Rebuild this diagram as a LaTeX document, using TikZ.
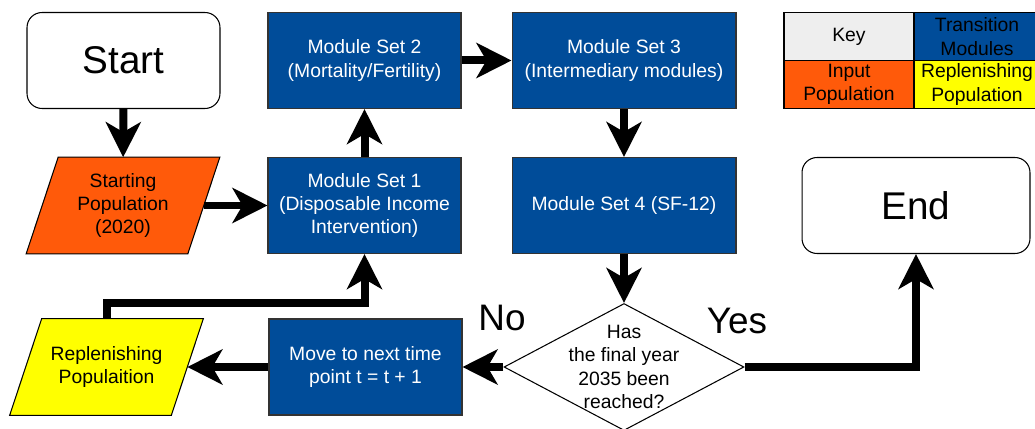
\documentclass[tikz,border=0pt]{standalone}
\usepackage{fontspec}
\setmainfont{Liberation Sans}
\usepackage{tikz}
\usetikzlibrary{arrows.meta}
\usetikzlibrary{shapes.geometric}
\usetikzlibrary{calc}

\definecolor{modblue}{HTML}{004C99}
\definecolor{inorange}{HTML}{FF5A0A}
\definecolor{repyellow}{HTML}{FFFF00}
\definecolor{keygray}{HTML}{EEEEEE}

\tikzset{
  txt/.style={font=\fontsize{11}{13.3}\selectfont, align=center, inner sep=0pt},
  modbox/.style={txt, draw=black!80, line width=0.6pt, fill=modblue, text=white, minimum width=3.86cm, minimum height=1.92cm},
  termbox/.style={draw=black, line width=0.6pt, rounded corners=0.3cm, fill=white, minimum height=1.92cm, font=\fontsize{22}{26}\selectfont},
  iobox/.style={txt, minimum width=3.86cm, minimum height=1.92cm},
  ioedge/.style={draw=black, line width=0.6pt},
  keycell/.style={txt, draw=black, line width=0.6pt, minimum height=0.96cm},
  flow/.style={line width=0.16cm, -{Stealth[length=0.7cm,width=0.7cm,inset=0.2cm]}},
  bigword/.style={font=\fontsize{21}{25}\selectfont, inner sep=0pt}
}

\begin{document}
\begin{tikzpicture}[x=0.02cm,y=-0.02cm]
\useasboundingbox (0,0) rectangle (1035,429);
\node [termbox, minimum width=3.86cm] (start) at (123.5,60.5) {Start};
\node [iobox] (startpop) at (123,205.5) {};
\draw [ioedge, fill=inorange] ($(startpop.north west)+(32,0)$) -- (startpop.north east) -- ($(startpop.south east)+(-32,0)$) -- (startpop.south west) -- cycle;
\node [txt] (startpoptxt) at (startpop) {Starting\\Population\\(2020)};
\node [modbox] (ms1) at (364.5,205.5) {Module Set 1\\(Disposable Income\\Intervention)};
\node [modbox] (ms2) at (364.5,60.5) {Module Set 2\\(Mortality/Fertility)};
\node [modbox, minimum width=4.48cm] (ms3) at (624,60.5) {Module Set 3\\(Intermediary modules)};
\node [modbox, minimum width=4.48cm] (ms4) at (624,205.5) {Module Set 4 (SF-12)};
\node [draw=black, line width=0.6pt, fill=white, diamond, inner sep=0pt, minimum width=4.8cm, minimum height=2.54cm] (check) at (624,367) {};
\node [txt] (checktxt) at (check) {Has\\the final year\\2035 been\\reached?};
\node [modbox] (nextt) at (365.5,367) {Move to next time\\point t = t + 1};
\node [iobox] (replen) at (106.5,367) {};
\draw [ioedge, fill=repyellow] ($(replen.north west)+(32,0)$) -- (replen.north east) -- ($(replen.south east)+(-32,0)$) -- (replen.south west) -- cycle;
\node [txt] (replentxt) at (replen) {Replenishing\\Populaition};
\node [termbox, minimum width=4.56cm] (finish) at (916,205.5) {End};
\node [bigword] (nolab) at (502,318) {No};
\node [bigword] (yeslab) at (737,321) {Yes};

\node [keycell, fill=keygray, minimum width=2.6cm] (keyhead) at (849,36.5) {Key};
\node [keycell, fill=modblue, minimum width=2.52cm] (keymod) at (977,36.5) {Transition\\Modules};
\node [keycell, fill=inorange, minimum width=2.6cm] (keyin) at (849,84.5) {Input\\Population};
\node [keycell, fill=repyellow, minimum width=2.52cm] (keyrep) at (977,84.5) {Replenishing\\Population};

\coordinate (startpopout) at ($(startpop.east)+(-16,0)$);
\coordinate (replenin) at ($(replen.east)+(-16,0)$);
\coordinate (loopturn) at (364.5,303);
\draw [flow] (start) -- (startpop);
\draw [flow] (startpopout) -- (ms1);
\draw [flow] (ms1) -- (ms2);
\draw [flow] (ms2) -- (ms3);
\draw [flow] (ms3) -- (ms4);
\draw [flow] (ms4) -- (check);
\draw [flow] (check) -- (nextt);
\draw [flow] (nextt) -- (replenin);
\draw [flow] (replen.north) |- (loopturn) -- (ms1);
\draw [flow] (check.east) -| (finish);
\end{tikzpicture}
\end{document}
